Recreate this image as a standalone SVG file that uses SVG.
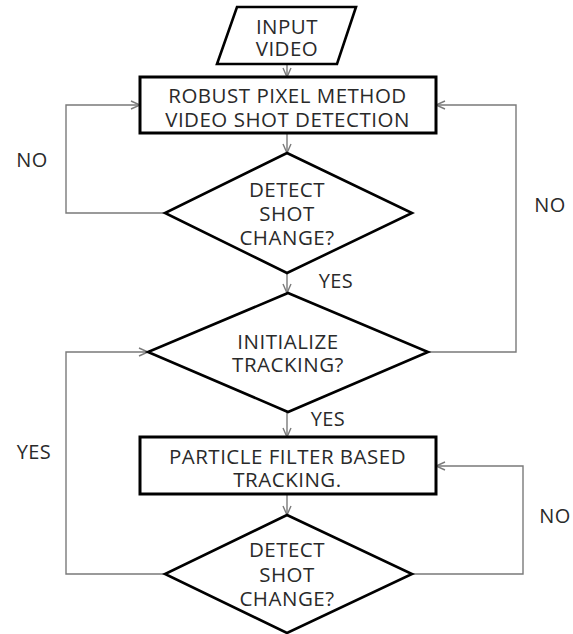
<svg xmlns="http://www.w3.org/2000/svg" width="573" height="634" viewBox="0 0 573 634">
  <style>
    .shape { fill: #ffffff; stroke: #000000; stroke-width: 2.6; stroke-linejoin: miter; }
    .box { stroke-width: 3; }
    .label { font-family: "Open Sans", "Liberation Sans", sans-serif; font-size: 20.5px; letter-spacing: 0.5px; fill: #2a2a2a; text-anchor: middle; dominant-baseline: central; }
    .edge { font-family: "Open Sans", "Liberation Sans", sans-serif; font-size: 20px; letter-spacing: 0.4px; fill: #2a2a2a; text-anchor: middle; dominant-baseline: central; }
    .conn { fill: none; stroke: #7a7a7a; stroke-width: 1.4; }
  </style>
  <defs>
    <marker id="arrow" viewBox="0 0 10 10" refX="10" refY="5" markerWidth="10" markerHeight="10" markerUnits="userSpaceOnUse" orient="auto">
      <path d="M1,1 L10,5 L1,9" fill="none" stroke="#7a7a7a" stroke-width="1.4"/>
    </marker>
  </defs>

  <rect width="573" height="634" fill="#ffffff"/>

  <g id="connectors">
    <path class="conn" d="M287,64 V77" marker-end="url(#arrow)"/>
    <path class="conn" d="M287,133 V153" marker-end="url(#arrow)"/>
    <path class="conn" d="M165,213 H66 V105 H140" marker-end="url(#arrow)"/>
    <path class="conn" d="M287,273 V293" marker-end="url(#arrow)"/>
    <path class="conn" d="M428,352 H516 V105 H436" marker-end="url(#arrow)"/>
    <path class="conn" d="M287,412 V437" marker-end="url(#arrow)"/>
    <path class="conn" d="M287,494 V515" marker-end="url(#arrow)"/>
    <path class="conn" d="M165,574 H66 V352 H148" marker-end="url(#arrow)"/>
    <path class="conn" d="M412,574 H523 V466 H436" marker-end="url(#arrow)"/>
    <text class="edge" x="32" y="159">NO</text>
    <text class="edge" x="550" y="204">NO</text>
    <text class="edge" x="336" y="280">YES</text>
    <text class="edge" x="328" y="418">YES</text>
    <text class="edge" x="34" y="451">YES</text>
    <text class="edge" x="555" y="515">NO</text>
  </g>

  <g id="input-video">
    <polygon class="shape" points="237,7 356,7 337,64 217,64"/>
    <text class="label" x="287" y="26">INPUT</text>
    <text class="label" x="287" y="48">VIDEO</text>
  </g>

  <g id="shot-detection">
    <rect class="shape box" x="140" y="77" width="296" height="56"/>
    <text class="label" x="287.5" y="95">ROBUST PIXEL METHOD</text>
    <text class="label" x="287.5" y="118.5">VIDEO SHOT DETECTION</text>
  </g>

  <g id="detect-shot-change-1">
    <polygon class="shape" points="287,153 412,213 287,273 165,213"/>
    <text class="label" x="287" y="189">DETECT</text>
    <text class="label" x="287" y="213">SHOT</text>
    <text class="label" x="287" y="237">CHANGE?</text>
  </g>

  <g id="initialize-tracking">
    <polygon class="shape" points="288,293 428,352 288,412 148,352"/>
    <text class="label" x="288" y="341">INITIALIZE</text>
    <text class="label" x="288" y="364">TRACKING?</text>
  </g>

  <g id="particle-filter">
    <rect class="shape box" x="140" y="437" width="296" height="57"/>
    <text class="label" x="287.5" y="455.5">PARTICLE FILTER BASED</text>
    <text class="label" x="287.5" y="478.5">TRACKING.</text>
  </g>

  <g id="detect-shot-change-2">
    <polygon class="shape" points="287,515 412,574 287,633 165,574"/>
    <text class="label" x="287" y="549">DETECT</text>
    <text class="label" x="287" y="574">SHOT</text>
    <text class="label" x="287" y="598">CHANGE?</text>
  </g>
</svg>
